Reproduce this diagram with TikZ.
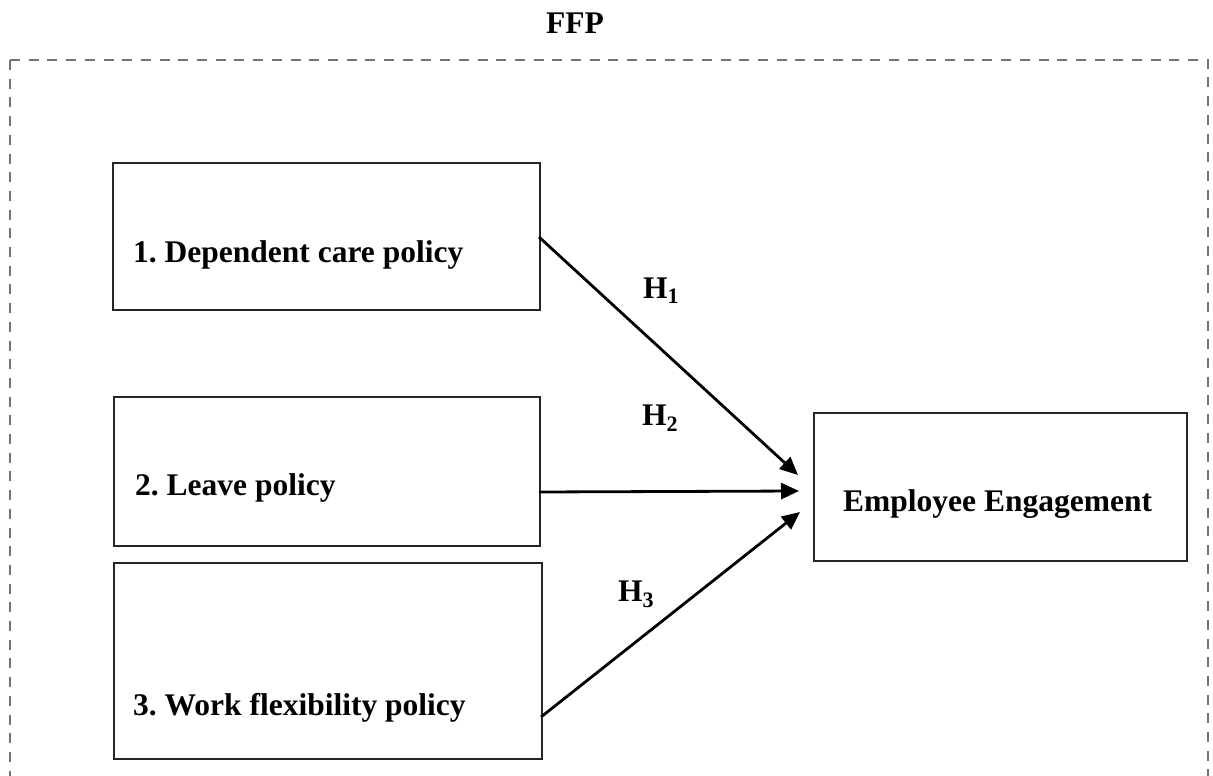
\documentclass[tikz,border=0pt]{standalone}
\usepackage{fontspec}
\setmainfont{Liberation Serif}
\frenchspacing
\usetikzlibrary{arrows.meta}
\begin{document}
\begin{tikzpicture}[x=1pt,y=-1pt,
  box/.style={draw=black!85, line width=1.8pt, rectangle, inner sep=0pt},
  lbl/.style={font=\fontsize{31.5}{36}\selectfont\bfseries, inner sep=0pt, anchor=base west},
  conn/.style={draw=black, line width=2.8pt, -{Triangle[length=18pt,width=16pt]}},
  frame/.style={draw=black!55, line width=2.3pt, dash pattern=on 10pt off 8.7pt}]
\useasboundingbox (0,0) rectangle (1213,776);
\clip (0,0) rectangle (1213,776);
% frame
\draw[frame] (10,60) -- (1208,60) -- (1208,820);
\draw[frame] (10,60) -- (10,820);
\node[lbl, anchor=base] (ffp) at (575,34) {FFP};
% boxes
\node[box, minimum width=427pt, minimum height=147pt, anchor=north west] (b1) at (112,162) {};
\node[box, minimum width=426pt, minimum height=149pt, anchor=north west] (b2) at (113,396) {};
\node[box, minimum width=428pt, minimum height=196pt, anchor=north west] (b3) at (113,562) {};
\node[box, minimum width=373pt, minimum height=148pt, anchor=north west] (ee) at (813,412) {};
% texts
\node[lbl] (t1) at (133,262) {1. Dependent care policy};
\node[lbl] (t2) at (135,495) {2. Leave policy};
\node[lbl] (t3) at (133,715) {3. Work flexibility policy};
\node[lbl] (tee) at (843,511) {Employee Engagement};
% hypothesis labels
\node[lbl] (h1) at (643,298) {H\textsubscript{1}};
\node[lbl] (h2) at (642,425) {H\textsubscript{2}};
\node[lbl] (h3) at (618,601) {H\textsubscript{3}};
% connector endpoints
\coordinate (s1) at (539,237);
\coordinate (s2) at (539,492);
\coordinate (s3) at (541,717);
\coordinate (e1) at (798,475);
\coordinate (e2) at (799,491);
\coordinate (e3) at (800,512);
\draw[conn] (s1) -- (e1);
\draw[conn] (s2) -- (e2);
\draw[conn] (s3) -- (e3);
\end{tikzpicture}
\end{document}
